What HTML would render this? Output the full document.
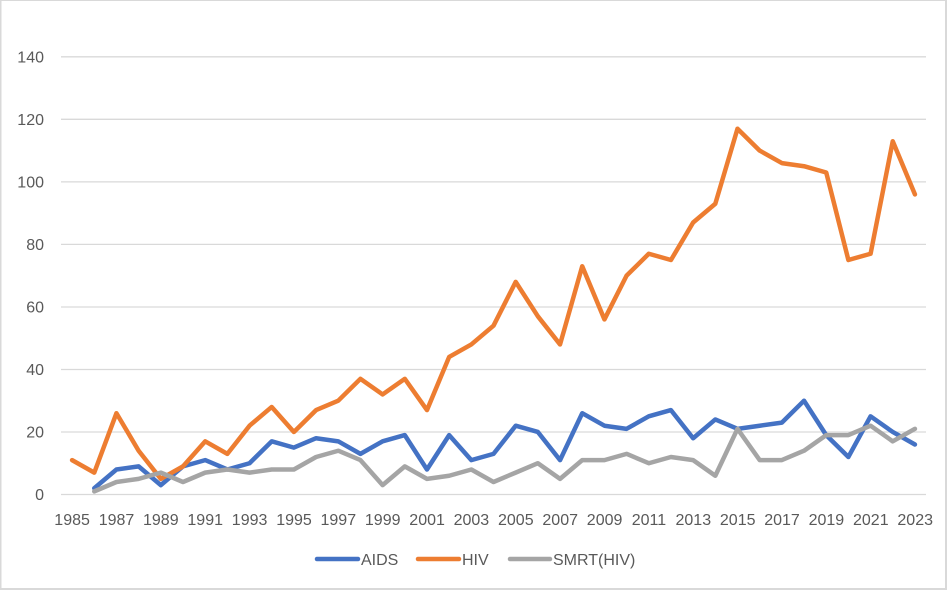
<!DOCTYPE html>
<html><head><meta charset="utf-8"><style>
html,body{margin:0;padding:0;background:#fff;}
svg{display:block;}
text{font-family:"Liberation Sans",sans-serif;fill:#595959;font-size:16px;}
</style></head><body>
<svg width="947" height="590" viewBox="0 0 947 590" xmlns="http://www.w3.org/2000/svg">
<rect x="0" y="0" width="947" height="590" fill="#fff"/>
<!-- border -->
<rect x="0" y="0" width="1.5" height="590" fill="#d9d9d9"/>
<rect x="0" y="0" width="947" height="1" fill="#d9d9d9"/>
<rect x="945" y="0" width="2" height="590" fill="#d9d9d9"/>
<rect x="0" y="588" width="947" height="2" fill="#d9d9d9"/>
<!-- gridlines -->
<g stroke="#d9d9d9" stroke-width="1.3">
<line x1="61" x2="926" y1="56.8" y2="56.8"/>
<line x1="61" x2="926" y1="119.3" y2="119.3"/>
<line x1="61" x2="926" y1="181.9" y2="181.9"/>
<line x1="61" x2="926" y1="244.4" y2="244.4"/>
<line x1="61" x2="926" y1="307.0" y2="307.0"/>
<line x1="61" x2="926" y1="369.5" y2="369.5"/>
<line x1="61" x2="926" y1="432.0" y2="432.0"/>
<line x1="61" x2="926" y1="494.5" y2="494.5"/>
</g>
<!-- y labels -->
<g text-anchor="end">
<text x="44" y="62.5">140</text>
<text x="44" y="125">120</text>
<text x="44" y="187.6">100</text>
<text x="44" y="250.1">80</text>
<text x="44" y="312.7">60</text>
<text x="44" y="375.2">40</text>
<text x="44" y="437.7">20</text>
<text x="44" y="500.2">0</text>
</g>
<!-- x labels -->
<g text-anchor="middle">
<text x="72.1" y="525">1985</text>
<text x="116.5" y="525">1987</text>
<text x="160.8" y="525">1989</text>
<text x="205.2" y="525">1991</text>
<text x="249.6" y="525">1993</text>
<text x="294.0" y="525">1995</text>
<text x="338.3" y="525">1997</text>
<text x="382.7" y="525">1999</text>
<text x="427.1" y="525">2001</text>
<text x="471.4" y="525">2003</text>
<text x="515.8" y="525">2005</text>
<text x="560.2" y="525">2007</text>
<text x="604.6" y="525">2009</text>
<text x="648.9" y="525">2011</text>
<text x="693.3" y="525">2013</text>
<text x="737.7" y="525">2015</text>
<text x="782.0" y="525">2017</text>
<text x="826.4" y="525">2019</text>
<text x="870.8" y="525">2021</text>
<text x="915.2" y="525">2023</text>
</g>
<!-- series -->
<g transform="translate(72.09,494.5) scale(22.18,-3.1264)" fill="none" stroke-width="4.5" stroke-linejoin="round" stroke-linecap="round">
<polyline vector-effect="non-scaling-stroke" stroke="#4472C4" points="1,2 2,8 3,9 4,3 5,9 6,11 7,8 8,10 9,17 10,15 11,18 12,17 13,13 14,17 15,19 16,8 17,19 18,11 19,13 20,22 21,20 22,11 23,26 24,22 25,21 26,25 27,27 28,18 29,24 30,21 31,22 32,23 33,30 34,19 35,12 36,25 37,20 38,16"/>
<polyline vector-effect="non-scaling-stroke" stroke="#ED7D31" points="0,11 1,7 2,26 3,14 4,5 5,9 6,17 7,13 8,22 9,28 10,20 11,27 12,30 13,37 14,32 15,37 16,27 17,44 18,48 19,54 20,68 21,57 22,48 23,73 24,56 25,70 26,77 27,75 28,87 29,93 30,117 31,110 32,106 33,105 34,103 35,75 36,77 37,113 38,96"/>
<polyline vector-effect="non-scaling-stroke" stroke="#A5A5A5" points="1,1 2,4 3,5 4,7 5,4 6,7 7,8 8,7 9,8 10,8 11,12 12,14 13,11 14,3 15,9 16,5 17,6 18,8 19,4 20,7 21,10 22,5 23,11 24,11 25,13 26,10 27,12 28,11 29,6 30,21 31,11 32,11 33,14 34,19 35,19 36,22 37,17 38,21"/>
</g>
<!-- legend -->
<g stroke-width="4.5" stroke-linecap="round">
<line x1="317" x2="358" y1="559" y2="559" stroke="#4472C4"/>
<line x1="418" x2="459" y1="559" y2="559" stroke="#ED7D31"/>
<line x1="510" x2="550" y1="559" y2="559" stroke="#A5A5A5"/>
</g>
<text x="361" y="565">AIDS</text>
<text x="462" y="565">HIV</text>
<text x="553" y="565">SMRT(HIV)</text>
</svg>
</body></html>
